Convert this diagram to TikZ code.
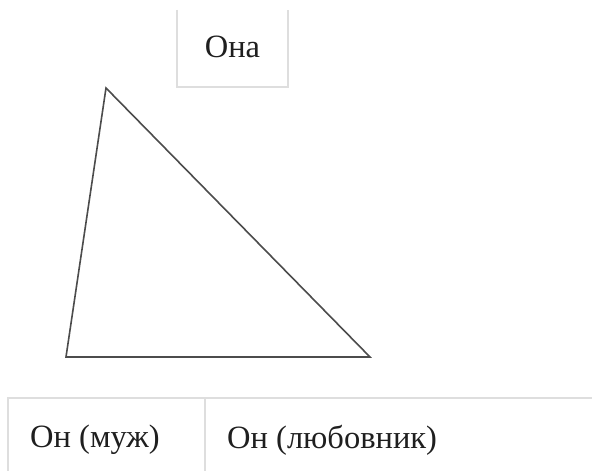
\documentclass[tikz,border=0pt]{standalone}
\usepackage{fontspec}
\setmainfont{Liberation Serif}
\tikzset{
  cellline/.style={draw=black!13, line width=1.2pt},
  tri/.style={draw=black!70, line width=1.6pt, line join=miter},
  lbl/.style={font=\fontsize{32.5}{38}\selectfont, text=black!88, inner sep=0pt}
}
\begin{document}
\begin{tikzpicture}[x=1pt,y=1pt]
\useasboundingbox (0,0) rectangle (592,471);
\fill[white] (0,0) rectangle (592,471);
% top cell
\draw[cellline] (177,461) -- (177,384) -- (288,384) -- (288,461);
\node[lbl] (ona) at (232.5,424) {Она};
% triangle
\coordinate (a) at (106,383);
\coordinate (b) at (66,114);
\coordinate (c) at (370,114);
\draw[tri] (a) -- (b) -- (c) -- cycle;
% bottom table
\draw[cellline] (8,0) -- (8,73) -- (592,73);
\draw[cellline] (205,0) -- (205,73);
\node[lbl, anchor=west] (muzh) at (30,31) {Он (муж)};
\node[lbl, anchor=west] (lyub) at (227,31) {Он (любовник)};
\end{tikzpicture}
\end{document}
